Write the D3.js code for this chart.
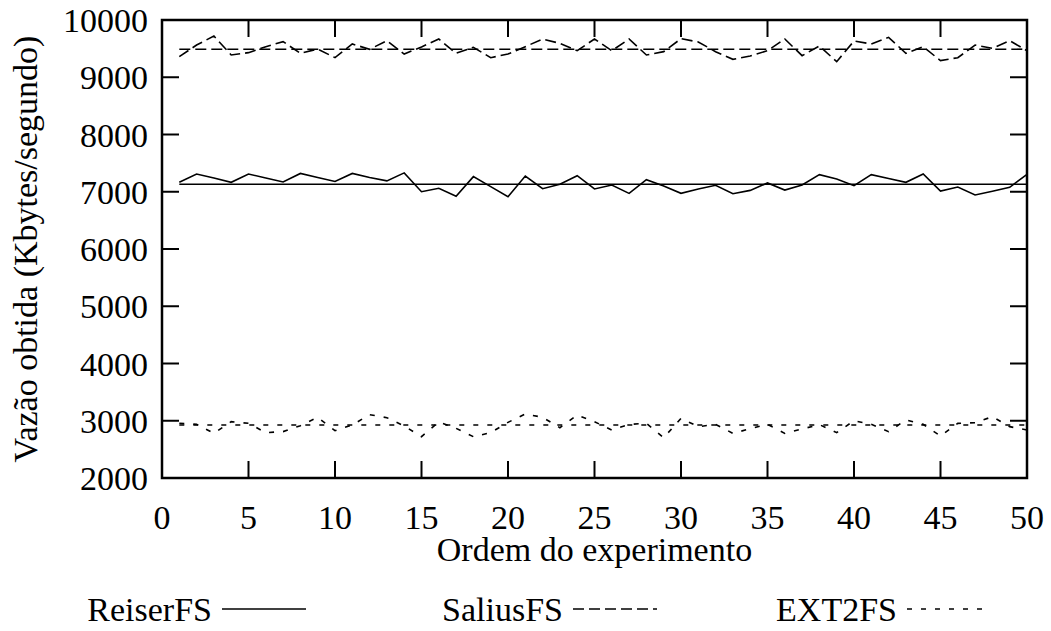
<!DOCTYPE html>
<html>
<head>
<meta charset="utf-8">
<script src="https://cdn.jsdelivr.net/npm/d3@7"></script>
</head>
<body style="margin:0">
<svg id="chart" width="1051" height="631" style="display:block;background:#fff"></svg>
<script>
// ---- data ----
const experiments = d3.range(1, 51);   // x = 1..50
const reiserFS = [
  7165, 7310, 7240, 7165, 7310, 7240, 7170, 7320, 7250, 7180,
  7320, 7250, 7190, 7330, 7000, 7060, 6920, 7264, 7089, 6914,
  7275, 7054, 7130, 7281, 7048, 7118, 6972, 7211, 7100, 6972,
  7048, 7112, 6966, 7024, 7153, 7030, 7118, 7299, 7223, 7107,
  7299, 7231, 7165, 7310, 7013, 7083, 6944, 7010, 7077, 7304
];
const saliusFS = [
  9360, 9563, 9720, 9389, 9430, 9534, 9622, 9418, 9493, 9342,
  9581, 9488, 9639, 9405, 9530, 9668, 9418, 9523, 9342, 9406,
  9534, 9668, 9592, 9464, 9668, 9464, 9668, 9389, 9447, 9674,
  9616, 9447, 9313, 9371, 9464, 9668, 9377, 9546, 9272, 9633,
  9581, 9697, 9418, 9534, 9290, 9342, 9563, 9505, 9639, 9464
];
const ext2FS = [
  2955, 2937, 2780, 2984, 2955, 2792, 2810, 2914, 3060, 2827,
  2926, 3106, 3054, 2908, 2722, 2978, 2867, 2722, 2792, 2972,
  3118, 3060, 2879, 3100, 2984, 2838, 2937, 2955, 2704, 3042,
  2897, 2937, 2780, 2860, 2937, 2780, 2856, 2932, 2792, 3001,
  2937, 2810, 3013, 2937, 2734, 2955, 2966, 3071, 2897, 2838
];
const seriesNames = ["ReiserFS", "SaliusFS", "EXT2FS"];
const seriesMeans = [7130, 9490, 2925];   // horizontal average lines
const xTicks = [0, 5, 10, 15, 20, 25, 30, 35, 40, 45, 50];
const yTicks = [2000, 3000, 4000, 5000, 6000, 7000, 8000, 9000, 10000];
const xLabel = "Ordem do experimento";
const yLabel = "Vazão obtida (Kbytes/segundo)";

// ---- drawing ----
const svg = d3.select("#chart");
const L = 162, R = 1027, T = 20, B = 478;
const x = d3.scaleLinear().domain([0, 50]).range([L, R]);
const y = d3.scaleLinear().domain([2000, 10000]).range([B, T]);
const FS = 34;

const dashes = ["none", "11,5", "5,9"];
const allSeries = [reiserFS, saliusFS, ext2FS];

function txt(sel) {
  return sel.append("text").attr("font-size", FS)
    .style("font-family", "\"Times New Roman\"");
}

// ticks (inward, mirrored)
const tickLen = 17;
yTicks.forEach(v => {
  svg.append("line").attr("x1", L).attr("x2", L + tickLen).attr("y1", y(v)).attr("y2", y(v))
    .attr("stroke", "#000").attr("stroke-width", 2);
  svg.append("line").attr("x1", R).attr("x2", R - tickLen).attr("y1", y(v)).attr("y2", y(v))
    .attr("stroke", "#000").attr("stroke-width", 2);
  txt(svg).attr("x", L - 14).attr("y", y(v) + 12)
    .attr("text-anchor", "end").text(v);
});
xTicks.forEach(v => {
  svg.append("line").attr("x1", x(v)).attr("x2", x(v)).attr("y1", B).attr("y2", B - tickLen)
    .attr("stroke", "#000").attr("stroke-width", 2);
  svg.append("line").attr("x1", x(v)).attr("x2", x(v)).attr("y1", T).attr("y2", T + tickLen)
    .attr("stroke", "#000").attr("stroke-width", 2);
  txt(svg).attr("x", x(v)).attr("y", 529)
    .attr("text-anchor", "middle").text(v);
});

// series lines
const line = d3.line().x((d, i) => x(experiments[i])).y(d => y(d));
allSeries.forEach((s, k) => {
  svg.append("path").datum(s).attr("d", line)
    .attr("fill", "none").attr("stroke", "#000").attr("stroke-width", 1.6)
    .attr("stroke-dasharray", dashes[k]);
  svg.append("line").attr("x1", x(experiments[0])).attr("x2", x(50))
    .attr("y1", y(seriesMeans[k])).attr("y2", y(seriesMeans[k]))
    .attr("stroke", "#000").attr("stroke-width", 1.6)
    .attr("stroke-dasharray", dashes[k]);
});

// frame
svg.append("rect").attr("x", L).attr("y", T).attr("width", R - L).attr("height", B - T)
  .attr("fill", "none").attr("stroke", "#000").attr("stroke-width", 2.5);

// axis labels
txt(svg).attr("x", (L + R) / 2).attr("y", 561)
  .attr("text-anchor", "middle").text(xLabel);
txt(svg).attr("transform", `translate(37,${(T + B) / 2}) rotate(-90)`)
  .attr("text-anchor", "middle").text(yLabel);

// legend
const legendSampleStart = [222, 573, 907];
const legendSampleLen = 84;
const ly = 609;
seriesNames.forEach((name, k) => {
  const sx = legendSampleStart[k];
  txt(svg).attr("x", sx - 10).attr("y", ly + 12)
    .attr("text-anchor", "end").text(name);
  svg.append("line").attr("x1", sx).attr("x2", sx + legendSampleLen)
    .attr("y1", ly).attr("y2", ly)
    .attr("stroke", "#000").attr("stroke-width", 1.6)
    .attr("stroke-dasharray", dashes[k]);
});
</script>
</body>
</html>
